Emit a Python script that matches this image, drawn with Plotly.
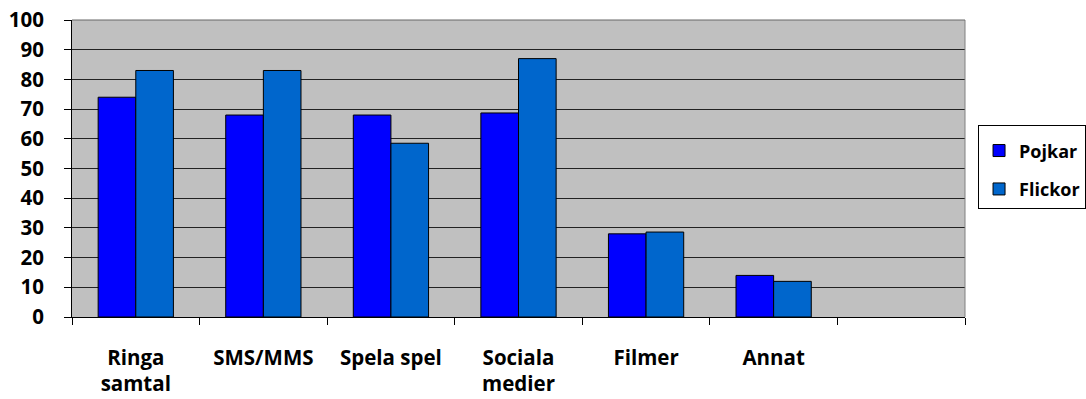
import plotly.graph_objects as go

categories = ["Ringa<br>samtal", "SMS/MMS", "Spela spel", "Sociala<br>medier", "Filmer", "Annat"]
empty_slot = [" "]
pojkar = [74, 68, 68, 68.7, 28, 14]
flickor = [83, 83, 58.5, 87, 28.6, 12]
y_ticks = [0, 10, 20, 30, 40, 50, 60, 70, 80, 90, 100]

FONT = "Open Sans"
FS = 20.5

fig = go.Figure()
fig.add_trace(go.Bar(name="Pojkar", x=categories, y=pojkar, legendgroup="p",
                     marker=dict(color="#0000FF", line=dict(color="#000000", width=1))))
fig.add_trace(go.Bar(name="Flickor", x=categories, y=flickor, legendgroup="f",
                     marker=dict(color="#0066CC", line=dict(color="#000000", width=1))))

fig.update_layout(
    width=1086, height=399,
    margin=dict(l=72, r=121, t=20, b=82, autoexpand=False),
    paper_bgcolor="white", plot_bgcolor="#C0C0C0",
    barmode="group", bargap=0.41, bargroupgap=0,
    font=dict(family=FONT, size=FS, color="black", weight="bold"),
    showlegend=True,
    legend=dict(x=1.0146, y=0.647, xanchor="left", yanchor="top",
                bgcolor="white", bordercolor="black", borderwidth=1,
                font=dict(family=FONT, size=18, color="black", weight="bold"),
                title=dict(text=" ", font=dict(size=5)),
                traceorder="grouped", tracegroupgap=12, itemwidth=30),
    xaxis=dict(type="category", categoryorder="array",
               categoryarray=categories + empty_slot,
               range=[-0.5, 6.5], tickson="boundaries", automargin=False,
               ticks="outside", ticklen=7, tickcolor="black",
               showgrid=False, showline=True, linecolor="black", linewidth=1,
               ticklabeloverflow="allow",
               ticklabelstandoff=22, tickfont=dict(family=FONT, size=FS, weight="bold")),
    yaxis=dict(range=[0, 100], tickvals=y_ticks, ticks="outside", ticklen=7,
               tickcolor="black", showgrid=True, gridcolor="#222222", gridwidth=1,
               showline=True, linecolor="black", linewidth=1, zeroline=False,
               automargin=False, ticklabeloverflow="allow",
               ticklabelstandoff=16, tickfont=dict(family=FONT, size=FS, weight="bold")),
    shapes=[dict(type="line", xref="paper", yref="paper", x0=1, x1=1, y0=0, y1=1,
                 line=dict(color="#808080", width=1)),
            dict(type="line", xref="paper", yref="paper", x0=0, x1=1, y0=1, y1=1,
                 line=dict(color="#666666", width=1))],
)

fig.write_html("out.html", config={"displayModeBar": False},
               post_script="document.body.style.margin='0';")
